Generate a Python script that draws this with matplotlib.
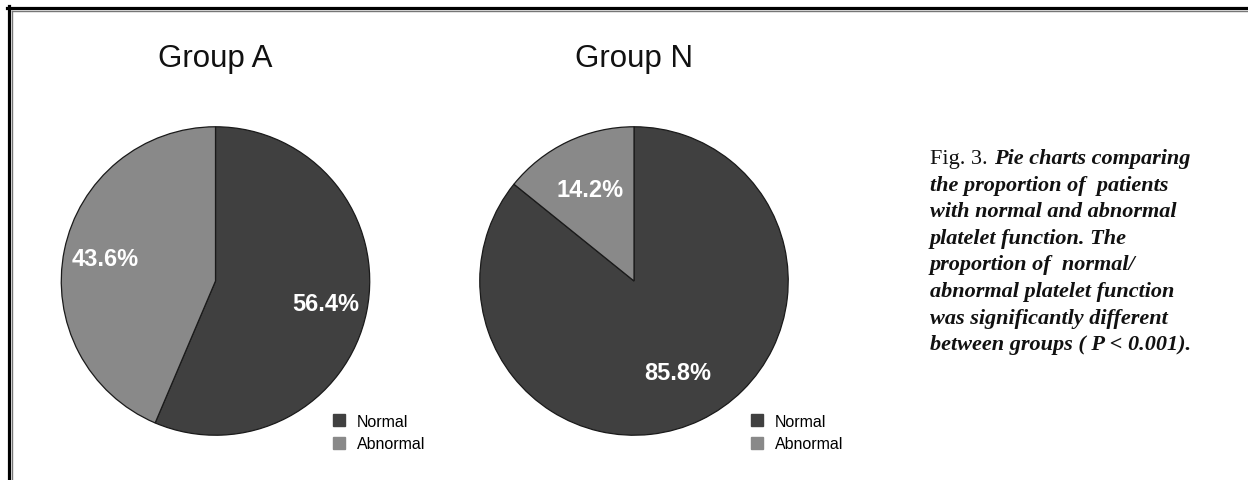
import matplotlib
matplotlib.use("Agg")
import matplotlib.pyplot as plt
from matplotlib.lines import Line2D

W, H = 1248, 481
categories = ["Normal", "Abnormal"]
group_titles = ["Group A", "Group N"]
values_A = [56.4, 43.6]
values_N = [85.8, 14.2]
colors = ["#404040", "#898989"]
caption_lines = [
    "the proportion of  patients",
    "with normal and abnormal",
    "platelet function. The",
    "proportion of  normal/",
    "abnormal platelet function",
    "was significantly different",
    "between groups ( P < 0.001).",
]
caption_first_plain = "Fig. 3."
caption_first_italic = "Pie charts comparing"

fig = plt.figure(figsize=(W / 100, H / 100), dpi=100)
fig.patch.set_facecolor("white")


def px_box(left, top, width, height):
    return [left / W, (H - top - height) / H, width / W, height / H]


pies = [
    (values_A, group_titles[0], (60, 127, 311, 310), 0.73),
    (values_N, group_titles[1], (478, 127, 312, 310), 0.66),
]

for vals, title, box, pdist in pies:
    ax = fig.add_axes(px_box(*box))
    wedges, texts, autotexts = ax.pie(
        vals, colors=colors, startangle=90, counterclock=False,
        autopct="%.1f%%", pctdistance=pdist,
        wedgeprops=dict(edgecolor="#1a1a1a", linewidth=0.9),
        textprops=dict(color="white", fontsize=17, fontweight="bold",
                       family="Liberation Sans"),
    )
    ax.set_xlim(-1.005, 1.005)
    ax.set_ylim(-1.005, 1.005)
    ax.set_aspect("equal")
    ax.axis("off")
    cx = (box[0] + box[2] / 2) / W
    fig.text(cx, 1 - 67 / H, title, ha="center", va="baseline",
             fontsize=22.5, family="Liberation Sans", color="#111111")
    handles = [Line2D([], [], marker="s", linestyle="none", markersize=8,
                      markerfacecolor=c, markeredgecolor=c) for c in colors]
    leg_left = box[0] + 271
    fig.legend(handles, categories, loc="upper left",
               bbox_to_anchor=(leg_left / W, 1 - 415 / H),
               frameon=False, handlelength=1.0,
               handletextpad=0.6, labelspacing=0.45, borderpad=0,
               borderaxespad=0,
               prop=dict(family="Liberation Sans", size=11.5))

# caption
cap_x = 930 / W
y0 = 164
line_h = 26.6
fs = 16
t1 = fig.text(cap_x, 1 - y0 / H, caption_first_plain, ha="left", va="baseline",
              fontsize=fs, family="Liberation Serif", color="#111111")
fig.canvas.draw()
bb = t1.get_window_extent()
fig.text((bb.x1 + 6) / W, 1 - y0 / H, caption_first_italic, ha="left",
         va="baseline", fontsize=fs, family="Liberation Serif",
         style="italic", fontweight="bold", color="#111111")
for i, line in enumerate(caption_lines):
    fig.text(cap_x, 1 - (y0 + (i + 1) * line_h) / H, line, ha="left",
             va="baseline", fontsize=fs, family="Liberation Serif",
             style="italic", fontweight="bold", color="#111111")

# double border (top and left)
fig.add_artist(Line2D([7 / W, 1], [1 - 8.5 / H, 1 - 8.5 / H],
                      transform=fig.transFigure, color="black", linewidth=2.3))
fig.add_artist(Line2D([8.5 / W, 8.5 / W], [0, 1 - 7 / H],
                      transform=fig.transFigure, color="black", linewidth=2.3))
fig.add_artist(Line2D([11.8 / W, 1], [1 - 11.8 / H, 1 - 11.8 / H],
                      transform=fig.transFigure, color="#777777", linewidth=1.0))
fig.add_artist(Line2D([11.8 / W, 11.8 / W], [0, 1 - 11.8 / H],
                      transform=fig.transFigure, color="#777777", linewidth=1.0))

fig.savefig("out.png", dpi=100, facecolor="white")
